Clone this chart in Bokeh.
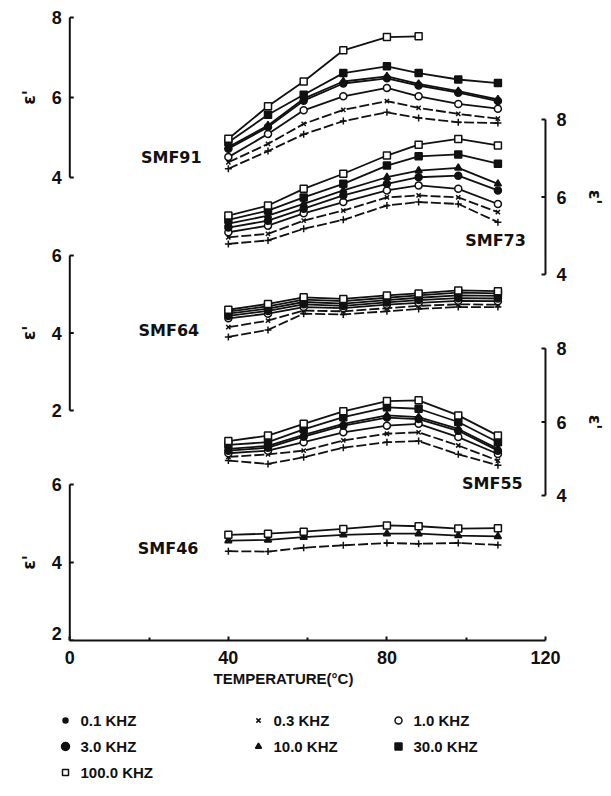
from math import pi

from bokeh.core.properties import value
from bokeh.embed import file_html
from bokeh.layouts import column
from bokeh.models import FixedTicker, Label, Range1d, Title
from bokeh.plotting import figure
from bokeh.resources import INLINE

# Measurement temperatures (deg C)
TEMPS = [40, 50, 59, 69, 80, 88, 98, 108]

# Frequencies (kHz), in legend order
FREQS = ["0.1", "0.3", "1.0", "3.0", "10.0", "30.0", "100.0"]

# Dielectric constant eps' per sample and frequency
SMF91 = {
    "100.0": [4.97, 5.78, 6.40, 7.18, 7.51, 7.53],
    "30.0": [4.88, 5.57, 6.07, 6.61, 6.78, 6.61, 6.45, 6.36],
    "10.0": [4.76, 5.30, 5.97, 6.40, 6.53, 6.34, 6.16, 5.95],
    "3.0": [4.72, 5.26, 5.92, 6.35, 6.48, 6.30, 6.12, 5.91],
    "1.0": [4.51, 5.09, 5.68, 6.03, 6.24, 6.03, 5.84, 5.72],
    "0.3": [4.38, 4.84, 5.34, 5.69, 5.91, 5.74, 5.59, 5.47],
    "0.1": [4.22, 4.66, 5.08, 5.41, 5.63, 5.49, 5.38, 5.36],
}
SMF73 = {
    "100.0": [5.52, 5.78, 6.21, 6.60, 7.07, 7.35, 7.50, 7.33],
    "30.0": [5.41, 5.65, 5.99, 6.34, 6.81, 7.05, 7.10, 6.86],
    "10.0": [5.31, 5.52, 5.82, 6.17, 6.51, 6.68, 6.75, 6.34],
    "3.0": [5.21, 5.39, 5.70, 6.04, 6.34, 6.51, 6.55, 6.17],
    "1.0": [5.09, 5.26, 5.58, 5.87, 6.17, 6.30, 6.21, 5.82],
    "0.3": [4.96, 5.05, 5.39, 5.65, 5.99, 6.04, 5.99, 5.61],
    "0.1": [4.79, 4.88, 5.18, 5.41, 5.78, 5.87, 5.82, 5.35],
}
SMF64 = {
    "100.0": [4.60, 4.75, 4.92, 4.88, 4.97, 5.02, 5.10, 5.08],
    "30.0": [4.55, 4.69, 4.86, 4.82, 4.91, 4.97, 5.04, 5.02],
    "10.0": [4.50, 4.63, 4.80, 4.76, 4.85, 4.91, 4.97, 4.96],
    "3.0": [4.44, 4.57, 4.74, 4.70, 4.79, 4.85, 4.90, 4.89],
    "1.0": [4.38, 4.50, 4.67, 4.64, 4.73, 4.78, 4.83, 4.82],
    "0.3": [4.15, 4.32, 4.58, 4.56, 4.64, 4.70, 4.74, 4.73],
    "0.1": [3.90, 4.08, 4.50, 4.48, 4.56, 4.62, 4.67, 4.67],
}
SMF55 = {
    "100.0": [5.48, 5.63, 5.95, 6.29, 6.57, 6.59, 6.18, 5.63],
    "30.0": [5.38, 5.45, 5.80, 6.13, 6.40, 6.36, 6.00, 5.45],
    "10.0": [5.27, 5.35, 5.65, 5.95, 6.18, 6.13, 5.81, 5.27],
    "3.0": [5.22, 5.30, 5.60, 5.90, 6.12, 6.08, 5.76, 5.22],
    "1.0": [5.15, 5.22, 5.45, 5.72, 5.90, 5.95, 5.59, 5.13],
    "0.3": [5.05, 5.12, 5.22, 5.50, 5.68, 5.72, 5.36, 4.95],
    "0.1": [4.95, 4.86, 5.04, 5.30, 5.45, 5.48, 5.12, 4.82],
}
SMF46 = {
    "100.0": [4.71, 4.74, 4.79, 4.86, 4.95, 4.93, 4.87, 4.88],
    "10.0": [4.56, 4.58, 4.65, 4.71, 4.74, 4.74, 4.69, 4.67],
    "0.1": [4.29, 4.28, 4.38, 4.44, 4.50, 4.48, 4.50, 4.45],
}

SAMPLES = [("SMF91", SMF91), ("SMF73", SMF73), ("SMF64", SMF64),
           ("SMF55", SMF55), ("SMF46", SMF46)]

# ---- layout / styling -------------------------------------------------
INK = "#111111"
NUM_FONT = "Liberation Sans"
TXT_FONT = "DejaVu Sans"
PAGE_W = 611
FRAME_H = 640            # frame height in px
X0_PX = 69.3             # pixel column of T = 0
PX_PER_DEG = 3.964

# each panel: which side its axis sits on, tick values, the pixel rows of
# its lowest / highest tick, and where its sample name is written
PANEL_LAYOUT = {
    "SMF91": dict(side="left", ticks=(4, 6, 8), px=(177, 17), name_at=(25.6, 4.5)),
    "SMF73": dict(side="right", ticks=(4, 6, 8), px=(274, 119), name_at=(107.4, 4.88)),
    "SMF64": dict(side="left", ticks=(2, 4, 6), px=(410, 255), name_at=(25.0, 4.06)),
    "SMF55": dict(side="right", ticks=(4, 6, 8), px=(495, 348), name_at=(106.6, 4.32)),
    "SMF46": dict(side="left", ticks=(2, 4, 6), px=(640, 484), name_at=(24.8, 4.36)),
}

STYLE = {
    "0.1": dict(marker="cross", size=7, fill=INK, dash="10 3"),
    "0.3": dict(marker="x", size=6, fill=INK, dash="10 3"),
    "1.0": dict(marker="circle", size=7, fill="white", dash="solid"),
    "3.0": dict(marker="circle", size=7, fill=INK, dash="solid"),
    "10.0": dict(marker="triangle", size=7, fill=INK, dash="solid"),
    "30.0": dict(marker="square", size=7, fill=INK, dash="solid"),
    "100.0": dict(marker="square", size=7, fill="white", dash="solid"),
}


def panel_range(v_lo, px_lo, v_hi, px_hi):
    """Range whose v_lo / v_hi land on the given pixel rows of the frame."""
    s = (px_lo - px_hi) / (v_hi - v_lo)
    return Range1d(v_lo - (FRAME_H - px_lo) / s, v_hi + px_hi / s)


def range_for(name):
    lay = PANEL_LAYOUT[name]
    lo, hi = lay["ticks"][0], lay["ticks"][-1]
    return panel_range(lo, lay["px"][0], hi, lay["px"][1])


p = figure(width=PAGE_W, height=700,
           x_range=Range1d(-X0_PX / PX_PER_DEG, (PAGE_W - X0_PX) / PX_PER_DEG),
           y_range=range_for("SMF46"),
           toolbar_location=None, output_backend="svg",
           y_axis_location=None,
           min_border_left=0, min_border_right=0,
           min_border_top=0, min_border_bottom=60)
p.grid.visible = False
p.outline_line_color = None
p.background_fill_color = "white"

for name, _ in SAMPLES[:-1]:
    p.extra_y_ranges[name] = range_for(name)

# ---- temperature axis ---------------------------------------------------
xa = p.xaxis[0]
xa.ticker = FixedTicker(ticks=[0, 40, 80, 120], minor_ticks=[20, 60, 100])
xa.bounds = (0, 120)
xa.axis_line_width = 2
xa.axis_line_color = INK
xa.major_tick_line_color = INK
xa.major_tick_line_width = 2
xa.major_tick_in = 4
xa.major_tick_out = 0
xa.minor_tick_in = 3
xa.minor_tick_out = 0
xa.minor_tick_line_color = INK
xa.minor_tick_line_width = 2
xa.major_label_text_font = NUM_FONT
xa.major_label_text_font_style = "bold"
xa.major_label_text_font_size = "18px"
xa.major_label_text_color = INK
xa.major_label_standoff = 10

p.add_layout(Title(text="TEMPERATURE(°C)", align="left",
                   offset=213, standoff=2,
                   text_font=NUM_FONT, text_font_size="15px",
                   text_font_style="bold", text_color=INK), "below")

# ---- curves -----------------------------------------------------------
for name, data in SAMPLES:
    rname = "default" if name == "SMF46" else name
    for f in FREQS:
        if f not in data:
            continue
        vals = data[f]
        xs = TEMPS[:len(vals)]
        st = STYLE[f]
        p.line(xs, vals, y_range_name=rname, line_color=INK,
               line_width=1.8, line_dash=st["dash"])
        p.scatter(xs, vals, y_range_name=rname, marker=st["marker"],
                  size=st["size"], fill_color=st["fill"], line_color=INK,
                  line_width=1.5)

# ---- one eps' axis per sample, all sharing the temperature axis ---------
for name, _ in SAMPLES:
    lay = PANEL_LAYOUT[name]
    rname = "default" if name == "SMF46" else name
    ticks = list(lay["ticks"])
    cx, cy = lay["name_at"]
    p.add_layout(Label(x=cx, y=cy, y_range_name=rname, text=name,
                       text_font=TXT_FONT, text_font_size="16px",
                       text_font_style="bold", text_color=INK,
                       text_align="center", text_baseline="middle"))
    left = lay["side"] == "left"
    ax_x = 0.0 if left else 120.0
    tick_dx = 1.0 if left else -1.0
    p.segment(x0=[ax_x], y0=[ticks[0]], x1=[ax_x], y1=[ticks[-1]],
              y_range_name=rname, line_color=INK, line_width=2)
    p.segment(x0=[ax_x] * 3, y0=ticks, x1=[ax_x + tick_dx] * 3, y1=ticks,
              y_range_name=rname, line_color=INK, line_width=2)
    for t, t_px in zip(ticks, (lay["px"][0], None, lay["px"][1])):
        # a label sitting on the frame's bottom edge is lifted to stay visible
        at_edge = t_px is not None and t_px >= FRAME_H - 2
        p.add_layout(Label(x=ax_x, y=t, y_range_name=rname, text=str(t),
                           x_offset=-8 if left else 11,
                           y_offset=7 if at_edge else 0,
                           text_align="right" if left else "left",
                           text_baseline="middle",
                           text_font=NUM_FONT,
                           text_font_style="bold", text_font_size="18px",
                           text_color=INK))
    p.add_layout(Label(x=ax_x, y=ticks[1], y_range_name=rname, text="ε'",
                       x_offset=-41 if left else 50,
                       angle=pi / 2 if left else -pi / 2,
                       text_align="center", text_baseline="middle",
                       text_font=TXT_FONT, text_font_style="bold",
                       text_font_size="17px", text_color=INK))

# ---- frequency key ------------------------------------------------------
KEY_H = 96
lg = figure(width=PAGE_W, height=KEY_H, x_range=Range1d(0, PAGE_W),
            y_range=Range1d(KEY_H, 0), toolbar_location=None,
            output_backend="svg", x_axis_location=None, y_axis_location=None,
            min_border=0)
lg.grid.visible = False
lg.outline_line_color = None

KEY_MARK = {
    "0.1": ("circle", INK, 5), "0.3": ("x", INK, 6),
    "1.0": ("circle", "white", 7), "3.0": ("circle", INK, 8),
    "10.0": ("triangle", INK, 6), "30.0": ("square", INK, 7),
    "100.0": ("square", "white", 6),
}
KEY_ORDER = ["0.1", "0.3", "1.0", "3.0", "10.0", "30.0", "100.0"]
COL_X = [65, 258, 398]
ROW_Y = [20, 46, 72]
for i, f in enumerate(KEY_ORDER):
    kx, ky = COL_X[i % 3], ROW_Y[i // 3]
    m, fill, sz = KEY_MARK[f]
    lg.scatter([kx], [ky], marker=m, size=sz, fill_color=fill,
               line_color=INK, line_width=1.5)
    lg.text([kx + 15], [ky], text=[f"{f} KHZ"], text_font=value(NUM_FONT),
            text_font_size=value("15px"), text_font_style="bold",
            text_color=INK, text_baseline="middle", text_align="left")

layout = column(p, lg, spacing=0)
open("out.html", "w").write(file_html(layout, INLINE))
